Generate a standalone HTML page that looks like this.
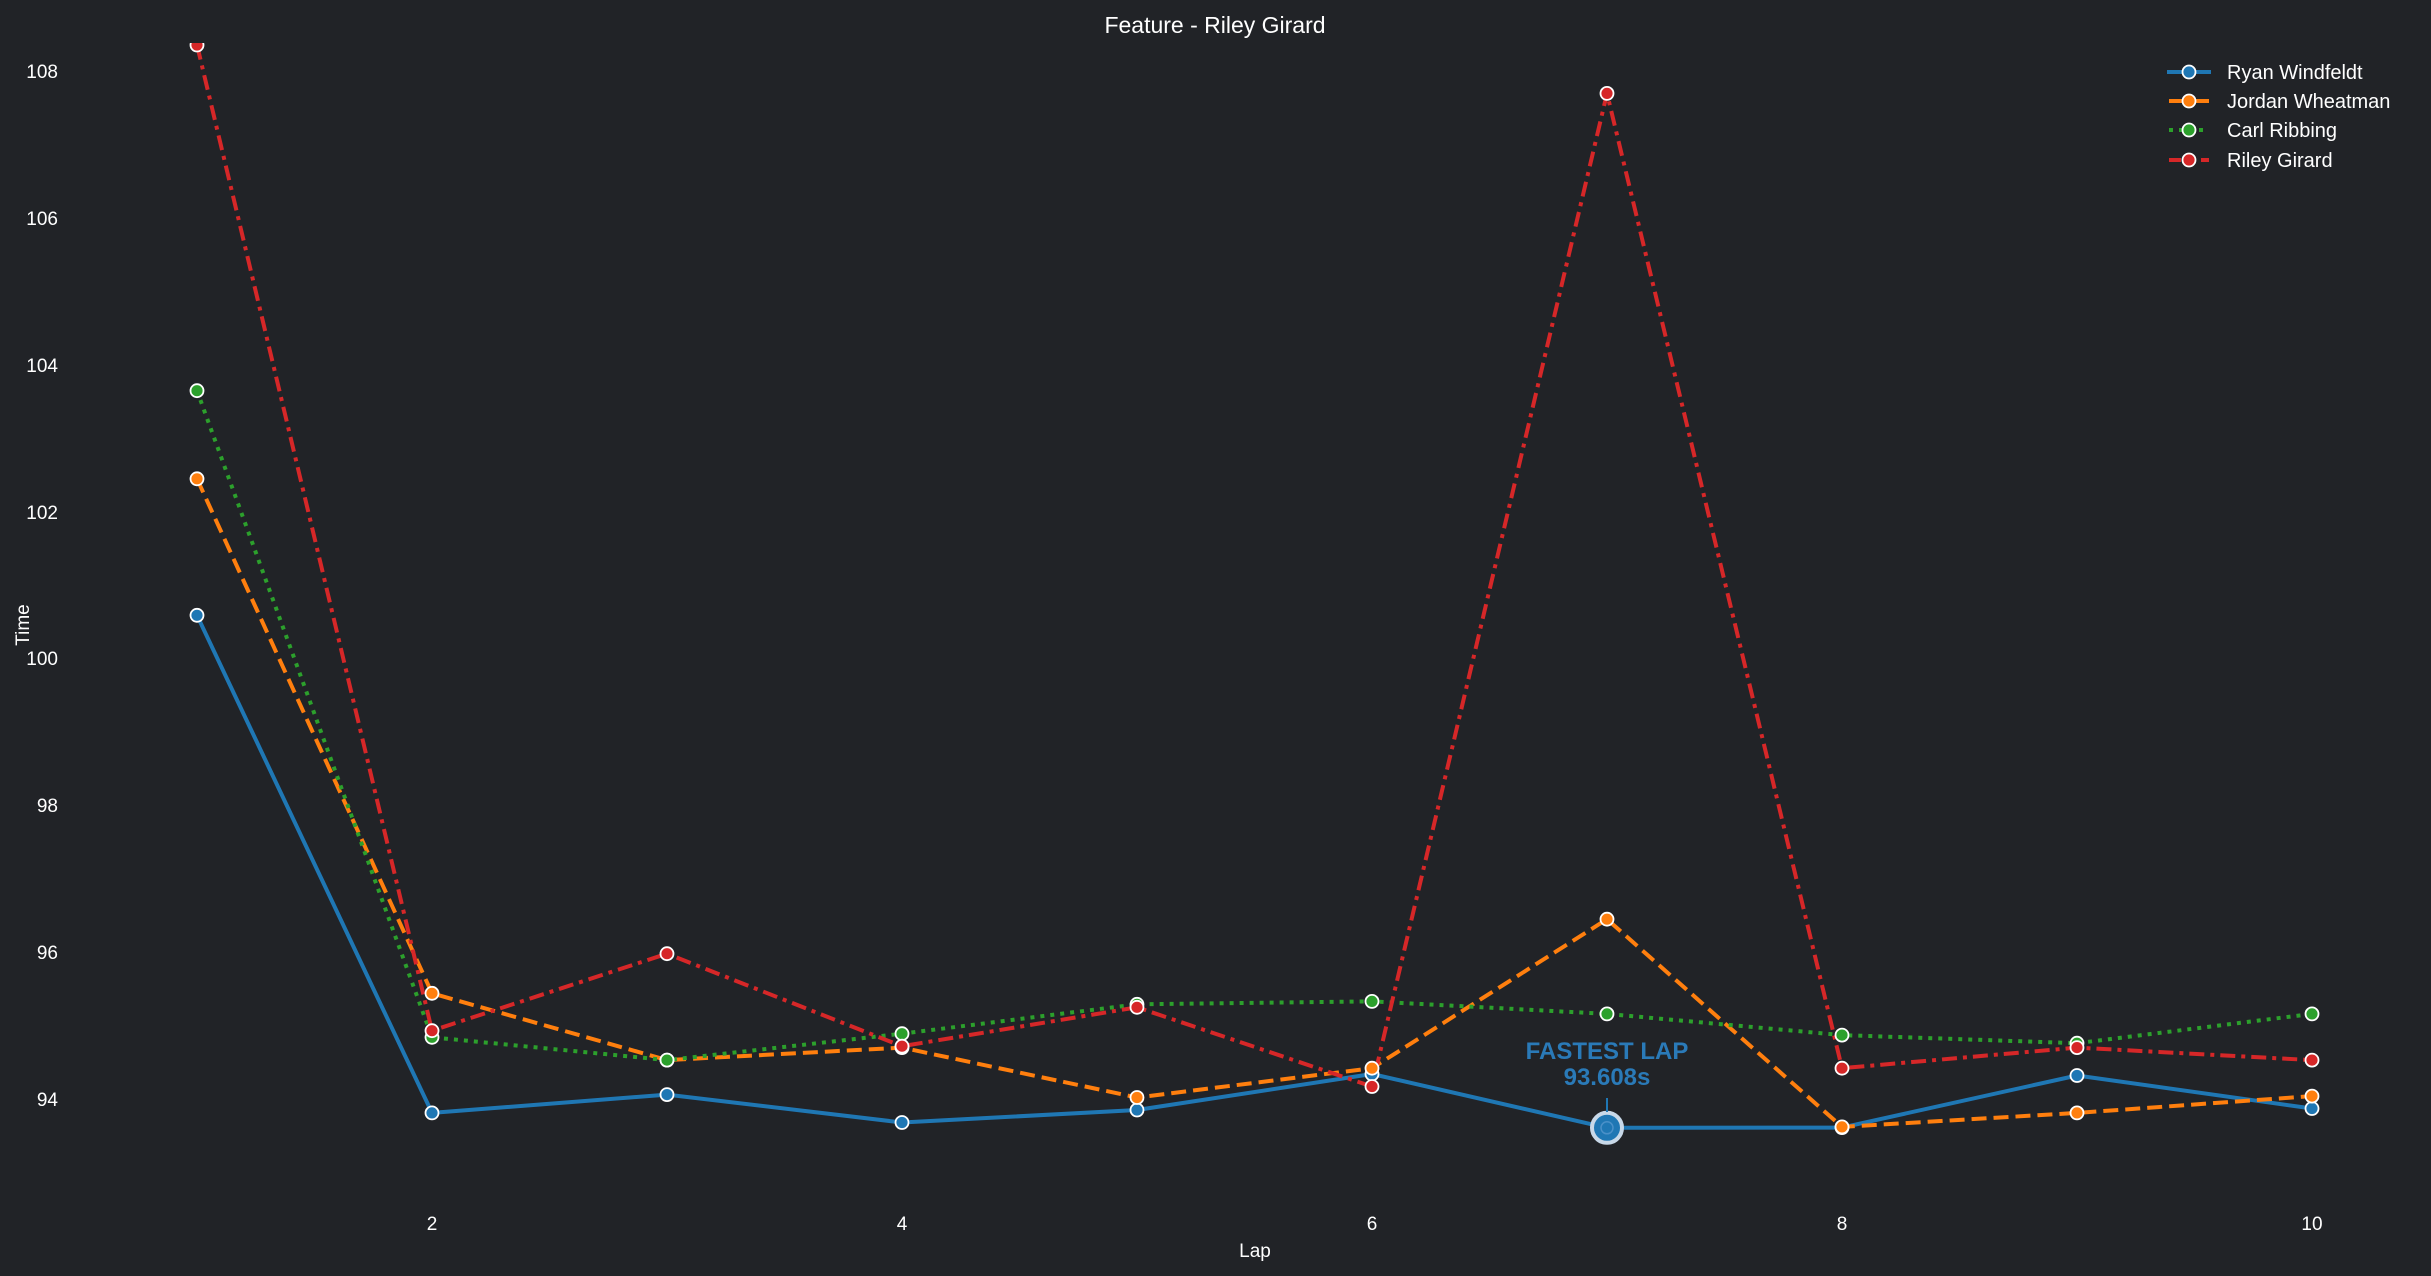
<!DOCTYPE html>
<html><head><meta charset="utf-8"><style>
html,body{margin:0;padding:0;background:#212327;}
svg{display:block;font-family:"Liberation Sans",sans-serif;}
</style></head><body>
<svg width="2431" height="1276" viewBox="0 0 2431 1276" xmlns="http://www.w3.org/2000/svg">
<defs><clipPath id="pa"><rect x="0" y="43" width="2431" height="1160"/></clipPath></defs>
<rect width="2431" height="1276" fill="#212327"/>
<text x="1215" y="33" fill="#fff" font-size="23" text-anchor="middle">Feature - Riley Girard</text>
<g fill="#fff" font-size="19" text-anchor="end">
<text x="58" y="1106">94</text><text x="58" y="959">96</text><text x="58" y="812">98</text>
<text x="58" y="665">100</text><text x="58" y="519">102</text><text x="58" y="372">104</text>
<text x="58" y="225">106</text><text x="58" y="78">108</text>
</g>
<g fill="#fff" font-size="19" text-anchor="middle">
<text x="432" y="1230">2</text><text x="902" y="1230">4</text><text x="1372" y="1230">6</text>
<text x="1842" y="1230">8</text><text x="2312" y="1230">10</text>
<text x="1255" y="1257">Lap</text>
</g>
<text transform="translate(29,625) rotate(-90)" fill="#fff" font-size="19" text-anchor="middle">Time</text>
<g clip-path="url(#pa)">
<g fill="none" stroke-width="4" stroke-linejoin="round">
<polyline stroke="#1f77b4" points="197,615.3 432,1112.9 667,1094.6 902,1122.5 1137,1110 1372,1074 1607,1127.8 1842,1127.6 2077,1075.5 2312,1108.5"/>
<polyline stroke="#ff7f0e" stroke-dasharray="15,7" points="197,478.8 432,993.3 667,1060.1 902,1047.6 1137,1097.5 1372,1068.2 1607,919.2 1842,1126.9 2077,1112.9 2312,1096.1"/>
<polyline stroke="#2ca02c" stroke-dasharray="4,6" points="197,390.7 432,1037.3 667,1060.1 902,1033.7 1137,1004.3 1372,1001.4 1607,1013.9 1842,1035.1 2077,1043.2 2312,1013.9"/>
<polyline stroke="#d62728" stroke-dasharray="15,6,4,6" points="197,45 432,1030.7 667,953.7 902,1046.2 1137,1007.3 1372,1086.5 1607,93.4 1842,1068.2 2077,1047.6 2312,1060.1"/>
</g>
<g stroke="#fff" stroke-width="1.8">
<g fill="#1f77b4"><circle cx="197" cy="615.3" r="6.5"/><circle cx="432" cy="1112.9" r="6.5"/><circle cx="667" cy="1094.6" r="6.5"/><circle cx="902" cy="1122.5" r="6.5"/><circle cx="1137" cy="1110" r="6.5"/><circle cx="1372" cy="1074" r="6.5"/><circle cx="1842" cy="1127.6" r="6.5"/><circle cx="2077" cy="1075.5" r="6.5"/><circle cx="2312" cy="1108.5" r="6.5"/></g>
<g fill="#ff7f0e"><circle cx="197" cy="478.8" r="6.5"/><circle cx="432" cy="993.3" r="6.5"/><circle cx="667" cy="1060.1" r="6.5"/><circle cx="902" cy="1047.6" r="6.5"/><circle cx="1137" cy="1097.5" r="6.5"/><circle cx="1372" cy="1068.2" r="6.5"/><circle cx="1607" cy="919.2" r="6.5"/><circle cx="1842" cy="1126.9" r="6.5"/><circle cx="2077" cy="1112.9" r="6.5"/><circle cx="2312" cy="1096.1" r="6.5"/></g>
<g fill="#2ca02c"><circle cx="197" cy="390.7" r="6.5"/><circle cx="432" cy="1037.3" r="6.5"/><circle cx="667" cy="1060.1" r="6.5"/><circle cx="902" cy="1033.7" r="6.5"/><circle cx="1137" cy="1004.3" r="6.5"/><circle cx="1372" cy="1001.4" r="6.5"/><circle cx="1607" cy="1013.9" r="6.5"/><circle cx="1842" cy="1035.1" r="6.5"/><circle cx="2077" cy="1043.2" r="6.5"/><circle cx="2312" cy="1013.9" r="6.5"/></g>
<g fill="#d62728"><circle cx="197" cy="45" r="6.5"/><circle cx="432" cy="1030.7" r="6.5"/><circle cx="667" cy="953.7" r="6.5"/><circle cx="902" cy="1046.2" r="6.5"/><circle cx="1137" cy="1007.3" r="6.5"/><circle cx="1372" cy="1086.5" r="6.5"/><circle cx="1607" cy="93.4" r="6.5"/><circle cx="1842" cy="1068.2" r="6.5"/><circle cx="2077" cy="1047.6" r="6.5"/><circle cx="2312" cy="1060.1" r="6.5"/></g>
</g>
</g>
<circle cx="1607" cy="1127.8" r="15" fill="#1f77b4" stroke="#c8d8e8" stroke-width="4"/>
<circle cx="1607" cy="1127.8" r="6" fill="none" stroke="#4a90c8" stroke-width="1.5"/>
<line x1="1607" y1="1098" x2="1607" y2="1112" stroke="#1f77b4" stroke-width="2"/>
<g fill="#2a7ab8" font-weight="bold" font-size="24" text-anchor="middle">
<text x="1607" y="1059">FASTEST LAP</text>
<text x="1607" y="1085">93.608s</text>
</g>
<g stroke-width="4">
<line x1="2167" y1="72" x2="2211" y2="72" stroke="#1f77b4"/>
<line x1="2169" y1="101" x2="2209" y2="101" stroke="#ff7f0e"/>
<line x1="2169" y1="130" x2="2209" y2="130" stroke="#2ca02c" stroke-dasharray="4,6"/>
<line x1="2169" y1="160" x2="2209" y2="160" stroke="#d62728" stroke-dasharray="12,20"/>
</g>
<g stroke="#fff" stroke-width="1.8">
<circle cx="2189" cy="72" r="6.5" fill="#1f77b4"/><circle cx="2189" cy="101" r="6.5" fill="#ff7f0e"/>
<circle cx="2189" cy="130" r="6.5" fill="#2ca02c"/><circle cx="2189" cy="160" r="6.5" fill="#d62728"/>
</g>
<g fill="#fff" font-size="20">
<text x="2227" y="79">Ryan Windfeldt</text><text x="2227" y="108">Jordan Wheatman</text>
<text x="2227" y="137">Carl Ribbing</text><text x="2227" y="167">Riley Girard</text>
</g>
</svg>
</body></html>
